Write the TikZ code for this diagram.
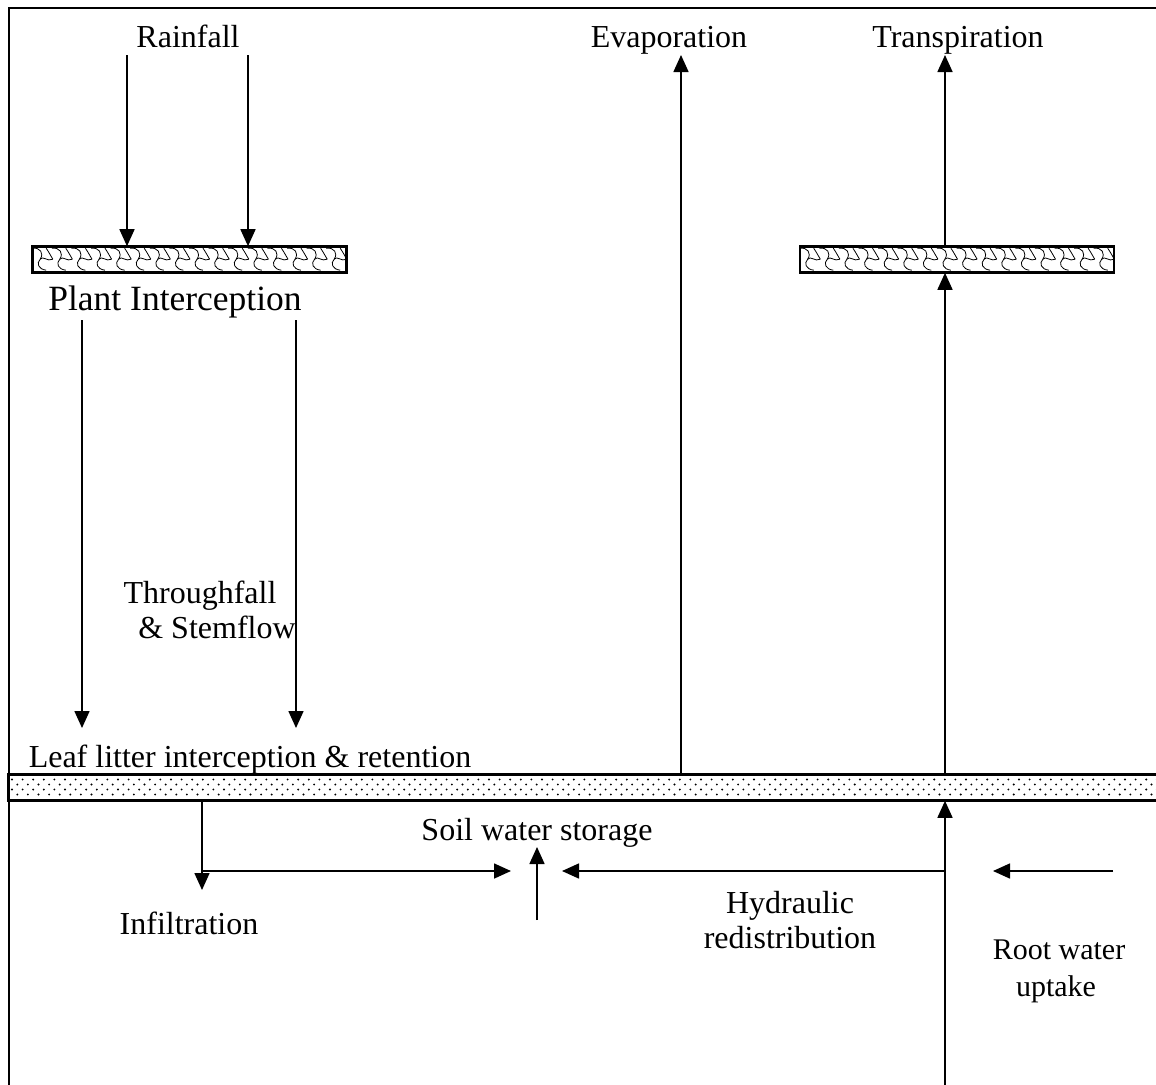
\documentclass[tikz,border=0pt]{standalone}
\usepackage{fontspec}
\setmainfont{Liberation Serif}
\usetikzlibrary{arrows.meta}
\begin{document}
\begin{tikzpicture}[x=1pt,y=-1pt,
  lbl/.style={font=\fontsize{32}{36}\selectfont, inner sep=0pt, anchor=base},
  flow/.style={line width=1.6pt, -{Triangle[length=17pt,width=15pt]}},
  plainline/.style={line width=1.6pt},
  canopy/.style={draw, line width=1.6pt, minimum width=313pt, minimum height=25pt, inner sep=0pt},
  litter/.style={draw, line width=1.6pt, minimum width=1156pt, minimum height=25pt, inner sep=0pt},
  scalemark/.style={line width=0.8pt}
]
\useasboundingbox (0,0) rectangle (1156,1084);
\fill[white] (0,0) rectangle (1156,1084);
% frame
\coordinate (ftl) at (9,8);
\coordinate (ftr) at (1160,8);
\coordinate (fbl) at (9,1090);
\draw[plainline] (fbl) -- (ftl) -- (ftr);

% canopies
\node[canopy] (cl) at (189.5,259.5) {};
\node[canopy] (cr) at (957,259.5) {};
\foreach \n in {cl,cr}{
  \begin{scope}
    \clip (\n.south west) rectangle (\n.north east);
    \begin{scope}[shift={(\n.north west)}]
      \foreach \i in {-1,...,16}{
        \pgfmathsetmacro{\xa}{\i*19.6}
        \draw[scalemark] (\xa,2) .. controls (\xa+8,1) and (\xa+12,7) .. (\xa+8,13)
          .. controls (\xa+4,17) and (\xa+6,23) .. (\xa+14,24);
        \draw[scalemark] (\xa+8,13) .. controls (\xa+11,9) and (\xa+15,16) .. (\xa+19.6+1,13);
        \draw[scalemark] (\xa+14,2) .. controls (\xa+16,5) .. (\xa+20.6,13);
      }
    \end{scope}
  \end{scope}
  \draw[line width=1.6pt] (\n.south west) rectangle (\n.north east);
}

% litter band
\node[litter] (lit) at (587,787.5) {};
\begin{scope}
  \clip (lit.south west) rectangle (lit.north east);
  \foreach \r in {0,1,2,3}{
    \pgfmathsetmacro{\yy}{779.5+5*\r}
    \pgfmathsetmacro{\off}{mod(\r,2)*5.3}
    \foreach \k in {0,...,110}{
      \fill ({12+\off+10.6*\k},\yy) circle (1.05pt);
    }
  }
\end{scope}
\draw[line width=1.6pt] (lit.south west) rectangle (lit.north east);

% labels
\node[lbl] (rain) at (188,47) {Rainfall};
\node[lbl] (evap) at (669,47) {Evaporation};
\node[lbl] (trans) at (958,47) {Transpiration};
\node[lbl, font=\fontsize{35.5}{40}\selectfont] (pint) at (175,310) {Plant Interception};
\node[lbl] (thr1) at (200,603) {Throughfall};
\node[lbl] (thr2) at (217,638) {\& Stemflow};
\node[lbl] (llit) at (250,767) {Leaf litter interception \& retention};
\node[lbl] (sws) at (537,840) {Soil water storage};
\node[lbl] (infl) at (189,934) {Infiltration};
\node[lbl] (hyd1) at (790,913) {Hydraulic};
\node[lbl] (hyd2) at (790,948) {redistribution};
\node[lbl, font=\fontsize{30}{34}\selectfont] (root1) at (1059,959) {Root water};
\node[lbl, font=\fontsize{30}{34}\selectfont] (root2) at (1056,996) {uptake};

% rainfall arrows
\coordinate (r1) at (127,55);
\coordinate (r2) at (248,55);
\draw[flow] (r1) -- (r1 |- cl.north);
\draw[flow] (r2) -- (r2 |- cl.north);

% throughfall arrows
\coordinate (t1) at (82,320);
\coordinate (t2) at (296,320);
\coordinate (t1e) at (82,728);
\coordinate (t2e) at (296,728);
\draw[flow] (t1) -- (t1e);
\draw[flow] (t2) -- (t2e);

% evaporation
\coordinate (ev) at (681,55);
\draw[flow] (ev |- lit.north) -- (ev);

% transpiration
\coordinate (tr) at (945,55);
\draw[flow] (tr |- cr.north) -- (tr);
\draw[flow] (tr |- lit.north) -- (tr |- cr.south);
\coordinate (rb) at (945,1090);
\draw[flow] (rb) -- (rb |- lit.south);

% infiltration
\coordinate (inf) at (202,890);
\coordinate (infc) at (202,871);
\coordinate (infe) at (511,871);
\draw[flow] (inf |- lit.south) -- (inf);
\draw[flow] (infc) -- (infe);

% soil water storage up arrow
\coordinate (su0) at (537,920);
\coordinate (su1) at (537,847);
\draw[flow] (su0) -- (su1);

% hydraulic redistribution
\coordinate (hr0) at (945,871);
\coordinate (hr1) at (562,871);
\draw[flow] (hr0) -- (hr1);

% root water uptake
\coordinate (ru0) at (1113,871);
\coordinate (ru1) at (993,871);
\draw[flow] (ru0) -- (ru1);
\end{tikzpicture}
\end{document}
